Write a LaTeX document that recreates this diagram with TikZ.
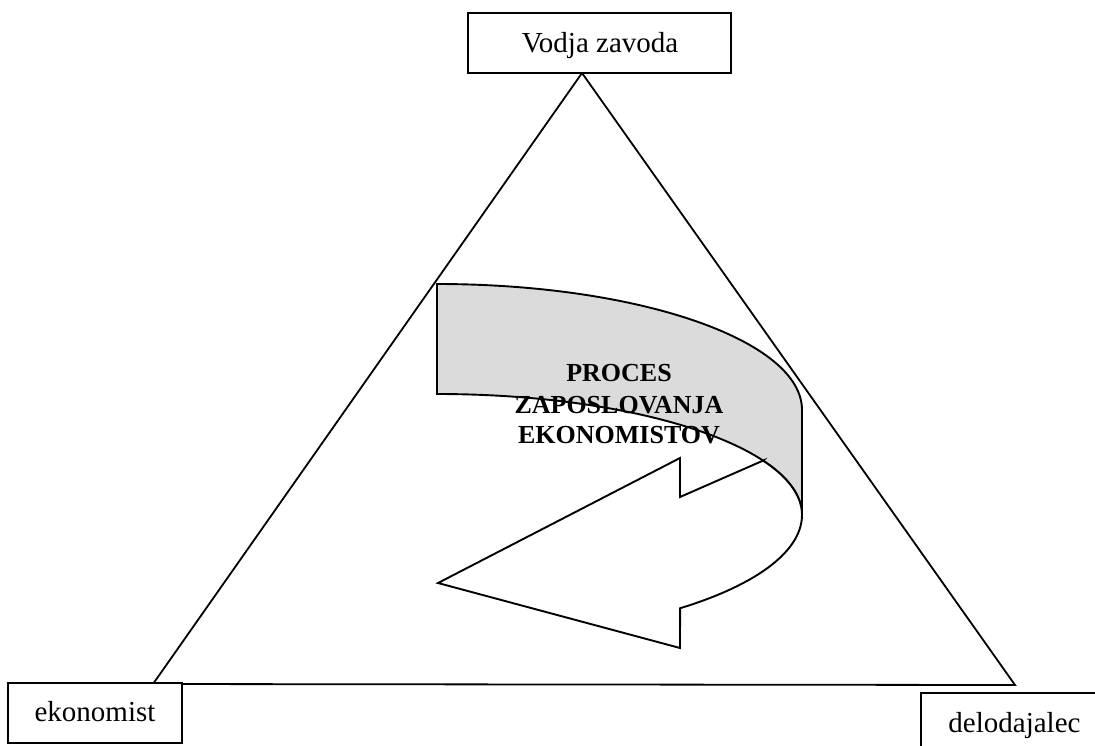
\documentclass[tikz,border=0pt]{standalone}
\usepackage{fontspec}
\setmainfont{Liberation Serif}
\begin{document}
\begin{tikzpicture}[x=1pt,y=-1pt,
  line width=1.8pt, line join=miter,
  boxnode/.style={draw=black, fill=white, line width=1.5pt, inner sep=0pt},
  lbl/.style={font=\fontsize{29}{34}\selectfont, inner sep=0pt, anchor=base},
  proc/.style={font=\fontsize{26}{30}\selectfont\bfseries, inner sep=0pt, anchor=base},
  band/.style={fill=black!14, draw=black, line width=1.9pt},
  arrowbody/.style={fill=white, draw=black, line width=1.9pt}
]
\path[use as bounding box, clip] (0,0) rectangle (1095,745);
\fill[white] (0,0) rectangle (1095,745);

% shaded ribbon (front face)
\draw[band] (437,284) .. controls (638.6,284) and (802,340.4) .. (802,410)
  -- (802,515) .. controls (802,448.2) and (638.6,394) .. (437,394) -- cycle;

% white arrow (back face with head)
\draw[arrowbody] (680,497) -- (763.1,460.6)
  -- plot[domain=26.7:0, samples=20] ({437+365*cos(\x)},{515-121*sin(\x)})
  -- plot[domain=0:48.24, samples=30] ({437+365*cos(\x)},{515+125*sin(\x)})
  -- (680,648) -- (438,583) -- (680,458) -- cycle;

% triangle
\coordinate (apex) at (582,73);
\coordinate (lv) at (153,684);
\coordinate (rv) at (1015,685);
\draw (apex) -- (lv) -- (rv) -- cycle;

% boxes
\node[boxnode, minimum width=263pt, minimum height=60pt] (vodja) at (599.5,43) {};
\node[boxnode, minimum width=174pt, minimum height=60pt] (ekon) at (95,713) {};
\node[boxnode, minimum width=200pt, minimum height=80pt] (delo) at (1021,733) {};

\node[lbl] (vodjaT) at (600,52) {Vodja zavoda};
\node[lbl] (ekonT) at (95,721) {ekonomist};
\node[lbl] (deloT) at (1014.5,732) {delodajalec};

% process text
\node[proc] (p1) at (619,381) {PROCES};
\node[proc] (p2) at (619,413) {ZAPOSLOVANJA};
\node[proc] (p3) at (619,443) {EKONOMISTOV};
\end{tikzpicture}
\end{document}
